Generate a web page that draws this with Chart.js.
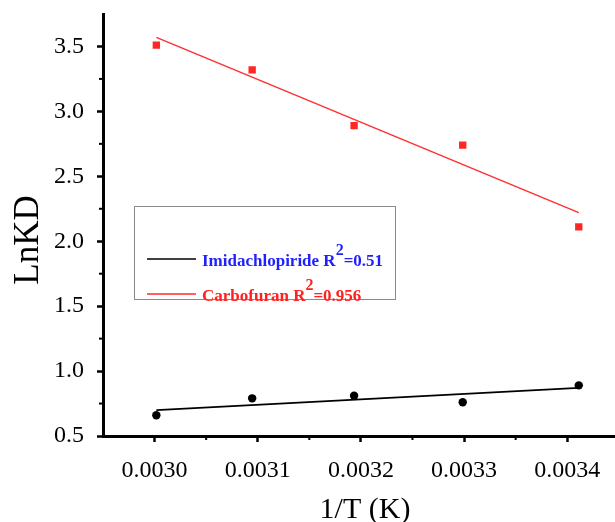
<!DOCTYPE html>
<html>
<head>
<meta charset="utf-8">
<script src="https://cdn.jsdelivr.net/npm/chart.js@4.4.1/dist/chart.umd.min.js"></script>
<style>
  html, body { margin: 0; padding: 0; background: #fff; overflow: hidden; }
  #wrap { width: 624px; height: 522px; }
</style>
</head>
<body>
<div id="wrap"><canvas id="c" width="624" height="522"></canvas></div>
<script>
// 1/T values (K^-1)
const invT = [0.0030017, 0.0030946, 0.0031934, 0.0032987, 0.0034112];
// LnKD values
const imidachlopiride = [0.66, 0.79, 0.81, 0.76, 0.89];
const carbofuran = [3.51, 3.32, 2.89, 2.74, 2.11];
// Linear fit lines, read at the first and last 1/T
const fitX = [0.0030017, 0.0034112];
const imidaFit = [0.70, 0.87];
const carboFit = [3.57, 2.22];
// Axis ticks
const xTickLabels = ['0.0030', '0.0031', '0.0032', '0.0033', '0.0034'];
const yTickLabels = ['0.5', '1.0', '1.5', '2.0', '2.5', '3.0', '3.5'];
// Axis titles
const xTitle = '1/T (K)';
const yTitle = 'LnKD';
// Legend entries
const legendNames = ['Imidachlopiride R', 'Carbofuran R'];
const legendR2 = ['=0.51', '=0.956'];

const FONT = "'Liberation Serif', 'Times New Roman', serif";

const pts = (xs, ys) => xs.map((x, i) => ({ x: x, y: ys[i] }));

const xLabelFor = v => {
  const s = v.toFixed(4);
  return (Math.abs(v * 1e4 - Math.round(v * 1e4)) < 1e-6 && xTickLabels.includes(s)) ? s : '';
};
const yLabelFor = v => {
  const s = v.toFixed(1);
  return (Math.abs(v * 2 - Math.round(v * 2)) < 1e-6 && yTickLabels.includes(s)) ? s : '';
};

const zeroPad = s => { s.paddingTop = 0; s.paddingBottom = 0; s.paddingLeft = 0; s.paddingRight = 0; };

const minorTicks = {
  id: 'minorTicks',
  afterDraw(chart) {
    const ctx = chart.ctx;
    const xs = chart.scales.x, ys = chart.scales.y;
    ctx.save();
    ctx.strokeStyle = '#000';
    ctx.lineWidth = 2;
    xs.ticks.forEach(t => {
      if (xLabelFor(t.value) === '') {
        const px = xs.getPixelForValue(t.value);
        if (px <= xs.left + 2 || px >= xs.right - 1) return;
        ctx.beginPath(); ctx.moveTo(px, xs.top); ctx.lineTo(px, xs.top + 4); ctx.stroke();
      }
    });
    ys.ticks.forEach(t => {
      if (yLabelFor(t.value) === '') {
        const py = ys.getPixelForValue(t.value);
        if (py <= ys.top + 2) return;
        ctx.beginPath(); ctx.moveTo(ys.right, py); ctx.lineTo(ys.right - 4, py); ctx.stroke();
      }
    });
    ctx.restore();
  }
};

const axisTitles = {
  id: 'axisTitles',
  afterDraw(chart) {
    const ctx = chart.ctx;
    ctx.save();
    ctx.fillStyle = '#000';
    ctx.font = '30px ' + FONT;
    ctx.textAlign = 'center';
    ctx.textBaseline = 'alphabetic';
    ctx.fillText(xTitle, 365, 518);
    ctx.translate(37.5, 240);
    ctx.rotate(-Math.PI / 2);
    ctx.font = '35px ' + FONT;
    ctx.fillText(yTitle, 0, 0);
    ctx.restore();
  }
};

const boxLegend = {
  id: 'boxLegend',
  afterDraw(chart) {
    const ctx = chart.ctx;
    ctx.save();
    ctx.strokeStyle = '#8a8a8a';
    ctx.lineWidth = 1;
    ctx.strokeRect(134.5, 206.5, 261, 93);
    const rows = [
      { y: 259, base: 265.5, line: '#000', text: '#1f1fff', name: legendNames[0], r2: legendR2[0] },
      { y: 294, base: 300.5, line: '#ff2a2a', text: '#ff2020', name: legendNames[1], r2: legendR2[1] }
    ];
    rows.forEach(r => {
      ctx.strokeStyle = r.line;
      ctx.lineWidth = 1.5;
      ctx.beginPath(); ctx.moveTo(147, r.y); ctx.lineTo(196, r.y); ctx.stroke();
      ctx.fillStyle = r.text;
      ctx.textBaseline = 'alphabetic';
      ctx.textAlign = 'left';
      ctx.font = 'bold 17px ' + FONT;
      let x = 202;
      ctx.fillText(r.name, x, r.base);
      x += ctx.measureText(r.name).width;
      ctx.font = 'bold 16px ' + FONT;
      ctx.fillText('2', x, r.base - 10.5);
      x += ctx.measureText('2').width;
      ctx.font = 'bold 17px ' + FONT;
      ctx.fillText(r.r2, x, r.base);
    });
    ctx.restore();
  }
};

new Chart(document.getElementById('c'), {
  type: 'scatter',
  data: {
    datasets: [
      { label: 'Imidachlopiride fit', type: 'line', data: pts(fitX, imidaFit), borderColor: '#000', borderWidth: 1.8, pointRadius: 0, fill: false, order: 2 },
      { label: 'Carbofuran fit', type: 'line', data: pts(fitX, carboFit), borderColor: '#ff3030', borderWidth: 1.5, pointRadius: 0, fill: false, order: 2 },
      { label: 'Imidachlopiride', data: pts(invT, imidachlopiride), pointStyle: 'circle', pointRadius: 4.2, backgroundColor: '#000', borderColor: '#000', borderWidth: 0, order: 1 },
      { label: 'Carbofuran', data: pts(invT, carbofuran), pointStyle: 'rect', pointRadius: 5.2, backgroundColor: '#ff2626', borderColor: '#ff2626', borderWidth: 0, order: 1 }
    ]
  },
  options: {
    responsive: false,
    devicePixelRatio: 1,
    animation: false,
    layout: { padding: { top: 14, left: 0, right: 0, bottom: 0 } },
    plugins: { legend: { display: false }, tooltip: { enabled: false } },
    scales: {
      x: {
        type: 'linear',
        min: 0.00295,
        max: 0.00345,
        afterFit: s => { s.height = 86; zeroPad(s); },
        border: { display: true, color: '#000', width: 3 },
        grid: {
          drawOnChartArea: false, drawTicks: true, tickLength: 6, tickWidth: 2.5,
          tickColor: c => (c.tick && xLabelFor(c.tick.value) !== '') ? '#000' : 'rgba(0,0,0,0)'
        },
        ticks: {
          stepSize: 0.00005, autoSkip: false, maxTicksLimit: 100, maxRotation: 0,
          padding: 14, color: '#000', font: { family: FONT, size: 24 },
          callback: v => xLabelFor(v)
        },
        title: { display: false }
      },
      y: {
        type: 'linear',
        min: 0.5,
        max: 3.75,
        afterFit: s => { s.width = 103; zeroPad(s); },
        border: { display: true, color: '#000', width: 3 },
        grid: {
          drawOnChartArea: false, drawTicks: true, tickLength: 6, tickWidth: 2.5,
          tickColor: c => (c.tick && yLabelFor(c.tick.value) !== '') ? '#000' : 'rgba(0,0,0,0)'
        },
        ticks: {
          stepSize: 0.25, autoSkip: false, maxTicksLimit: 100,
          padding: 13, color: '#000', font: { family: FONT, size: 24 },
          callback: v => yLabelFor(v)
        },
        title: { display: false }
      }
    }
  },
  plugins: [minorTicks, axisTitles, boxLegend]
});
</script>
</body>
</html>
